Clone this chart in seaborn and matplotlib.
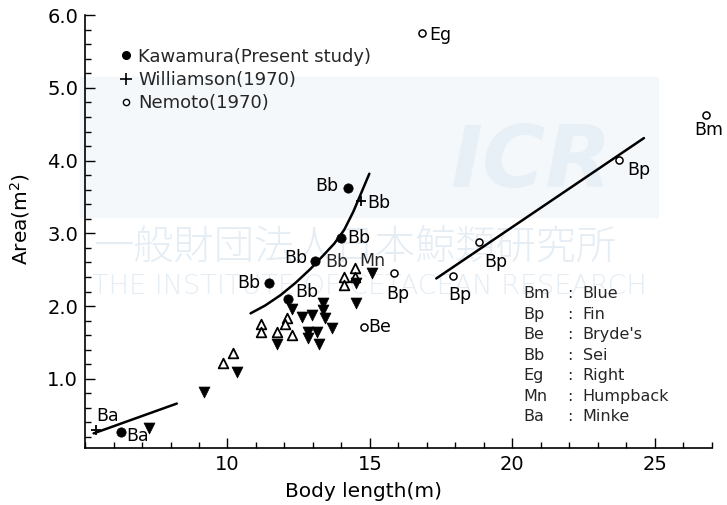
import matplotlib
matplotlib.use('Agg')
import matplotlib.pyplot as plt
from matplotlib.lines import Line2D
from matplotlib.patches import Rectangle
from matplotlib.ticker import MultipleLocator, FixedLocator
import seaborn as sns


# data: body length (m) vs area (m^2)

# Kawamura (present study), filled circles
kawa_len = [6.25, 11.44, 12.14, 13.08, 14.00, 14.24]
kawa_area = [0.27, 2.32, 2.10, 2.62, 2.93, 3.63]
kawa_lab = ['Ba', 'Bb', 'Bb', 'Bb', 'Bb', 'Bb']

# Williamson (1970), plus signs
will_len = [5.38, 14.67]
will_area = [0.30, 3.44]
will_lab = ['Ba', 'Bb']

# Nemoto (1970), open circles
nem_len = [16.84, 26.80, 23.75, 18.83, 17.90, 15.85, 14.80]
nem_area = [5.75, 4.63, 4.01, 2.88, 2.42, 2.45, 1.71]
nem_lab = ['Eg', 'Bm', 'Bp', 'Bp', 'Bp', 'Bp', 'Be']

# open up-triangles
up_len = [9.83, 10.21, 11.19, 11.19, 11.75, 12.10, 12.03, 12.28, 14.10, 14.10, 14.49, 14.49]
up_area = [1.22, 1.36, 1.75, 1.64, 1.64, 1.84, 1.75, 1.60, 2.40, 2.29, 2.53, 2.40]

# filled down-triangles
down_len = [7.23, 9.17, 10.35, 11.75, 12.28, 12.63, 12.98, 12.81, 12.84, 13.16,
            13.20, 13.37, 13.37, 13.44, 13.68, 14.52, 15.09, 14.52]
down_area = [0.32, 0.82, 1.10, 1.48, 1.96, 1.85, 1.88, 1.56, 1.64, 1.64,
             1.48, 2.04, 1.95, 1.84, 1.70, 2.32, 2.45, 2.04]

# fitted curves
minke_len = [5.30, 8.22]
minke_area = [0.25, 0.66]
sei_len = [10.81, 11.33, 11.86, 12.39, 12.91, 13.37, 13.75, 14.10, 14.42, 14.70, 14.98]
sei_area = [1.90, 2.01, 2.15, 2.32, 2.51, 2.70, 2.86, 3.05, 3.30, 3.56, 3.82]
fin_len = [17.33, 24.62]
fin_area = [2.38, 4.31]

# species key
key_abbr = ['Bm', 'Bp', 'Be', 'Bb', 'Eg', 'Mn', 'Ba']
key_name = ['Blue', 'Fin', "Bryde's", 'Sei', 'Right', 'Humpback', 'Minke']

# label offsets in points (dx, dy, ha)
kawa_off = [(4, -3, 'left'), (-6, 0, 'right'), (5, 5, 'left'), (-6, 2, 'right'),
            (4, 0, 'left'), (-7, 1, 'right')]
will_off = [(0, 10, 'left'), (5, -1, 'left')]
nem_off = [(5, -1, 'left'), (2, -11, 'center'), (6, -7, 'left'), (4, -14, 'left'),
           (-3, -14, 'left'), (-6, -15, 'left'), (3, 0, 'left')]

sns.set_theme(style='ticks')
plt.rcParams['font.family'] = ['DejaVu Sans', 'Noto Sans CJK JP']

fig = plt.figure(figsize=(7.27, 5.05), dpi=100)

# faint watermark of the scanned page
fig.add_artist(Rectangle((80 / 727, 1 - 217 / 505), 578 / 727, 140 / 505,
                         transform=fig.transFigure, color='#f5f8fb', zorder=-10))
fig.text(612 / 727, 1 - 163 / 505, 'ICR', fontsize=62, fontweight='bold', style='italic',
         color='#e8f0f7', ha='right', va='center', zorder=-9)
fig.text(93 / 727, 1 - 248 / 505, '一般財団法人日本鯨類研究所', fontsize=29,
         family=['Noto Sans CJK JP'], fontweight='light', color='#e5edf4',
         ha='left', va='center', zorder=-9)
fig.text(92 / 727, 1 - 287 / 505, 'THE INSTITUTE OF CETACEAN RESEARCH', fontsize=19.5,
         fontweight='light', color='#e5edf4', ha='left', va='center', zorder=-9)

ax = fig.add_axes([0.117, 0.113, 0.862, 0.857])
ax.set_facecolor('none')

# curves
sns.lineplot(x=minke_len, y=minke_area, sort=False, color='black', linewidth=1.8, ax=ax)
sns.lineplot(x=sei_len, y=sei_area, sort=False, color='black', linewidth=1.8, ax=ax)
sns.lineplot(x=fin_len, y=fin_area, sort=False, color='black', linewidth=1.8, ax=ax)

# points
sns.scatterplot(x=up_len, y=up_area, marker='^', s=48, color='white',
                edgecolor='black', linewidth=1.3, ax=ax, zorder=3)
sns.scatterplot(x=down_len, y=down_area, marker='v', s=62, color='black',
                edgecolor='black', linewidth=0.5, ax=ax, zorder=3)
sns.scatterplot(x=kawa_len, y=kawa_area, marker='o', s=45, color='black',
                edgecolor='black', linewidth=0.5, ax=ax, zorder=4)
sns.scatterplot(x=will_len, y=will_area, marker='+', s=55, color='black',
                linewidth=1.3, ax=ax, zorder=4)
sns.scatterplot(x=nem_len, y=nem_area, marker='o', s=26, color='white',
                edgecolor='black', linewidth=1.1, ax=ax, zorder=4, clip_on=False)

# species labels next to points
def put_labels(xs, ys, labs, offs):
    for x, y, lab, (dx, dy, ha) in zip(xs, ys, labs, offs):
        ax.annotate(lab, (x, y), xytext=(dx, dy), textcoords='offset points',
                    ha=ha, va='center', fontsize=12.5, color='black',
                    annotation_clip=False, zorder=5)

put_labels(kawa_len, kawa_area, kawa_lab, kawa_off)
put_labels(will_len, will_area, will_lab, will_off)
put_labels(nem_len, nem_area, nem_lab, nem_off)
# second Bb beside the Sei point on the curve, Mn above the humpback triangle
ax.annotate('Bb', (kawa_len[3], kawa_area[3]), xytext=(7, -1), textcoords='offset points',
            ha='left', va='center', fontsize=12.5, zorder=5)
ax.annotate('Mn', (down_len[16], down_area[16]), xytext=(0, 9), textcoords='offset points',
            ha='center', va='center', fontsize=12.5, zorder=5)

# axes styling
ax.set_xlim(5, 27)
ax.set_ylim(0.05, 6.0)
ax.xaxis.set_major_locator(FixedLocator([10, 15, 20, 25]))
ax.xaxis.set_minor_locator(MultipleLocator(1))
ax.yaxis.set_major_locator(FixedLocator([1, 2, 3, 4, 5, 6]))
ax.yaxis.set_minor_locator(MultipleLocator(0.2))
ax.set_yticklabels(['1.0', '2.0', '3.0', '4.0', '5.0', '6.0'])
ax.tick_params(which='both', direction='in', colors='black', width=1.0)
ax.tick_params(which='major', length=7, labelsize=14, pad=5)
ax.tick_params(which='minor', length=4.5)
sns.despine(ax=ax)
for side in ['left', 'bottom']:
    ax.spines[side].set_linewidth(1.2)
    ax.spines[side].set_color('black')

ax.set_xlabel('Body length(m)', fontsize=14.5, color='black')
ax.set_ylabel('Area(m$^2$)', fontsize=14.5, color='black')
ax.xaxis.set_label_coords(0.445, -0.078)
ax.yaxis.set_label_coords(-0.085, 0.53)

# source legend
handles = [
    Line2D([], [], marker='o', ls='', color='black', ms=5.5),
    Line2D([], [], marker='+', ls='', color='black', ms=8, mew=1.2),
    Line2D([], [], marker='o', ls='', color='black', mfc='white', ms=4.5, mew=1.0),
]
ax.legend(handles, ['Kawamura(Present study)', 'Williamson(1970)', 'Nemoto(1970)'],
          loc='upper left', bbox_to_anchor=(0.057, 0.925), frameon=False,
          handlelength=0.6, handletextpad=0.35, labelspacing=0.3, borderpad=0,
          borderaxespad=0, fontsize=13)

# species key
for i, (abbr, name) in enumerate(zip(key_abbr, key_name)):
    yy = 0.356 - i * 0.0473
    ax.text(0.699, yy, abbr, transform=ax.transAxes, fontsize=11.5, va='center', ha='left')
    ax.text(0.7735, yy, ':', transform=ax.transAxes, fontsize=11.5, va='center', ha='center')
    ax.text(0.794, yy, name, transform=ax.transAxes, fontsize=11.5, va='center', ha='left')

fig.savefig('out.png', dpi=100)
